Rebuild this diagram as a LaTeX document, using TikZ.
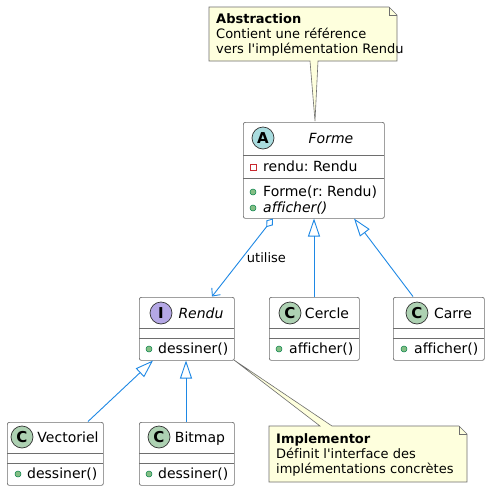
\documentclass[tikz,border=0pt]{standalone}
\usepackage{fontspec}
\setmainfont{DejaVu Sans}[Ligatures={TeXOff,CommonOff}]
\usetikzlibrary{arrows.meta}
\frenchspacing
\definecolor{lineblue}{HTML}{1E88E5}
\definecolor{boxborder}{HTML}{6E6E6E}
\definecolor{notefill}{HTML}{FEFFDD}
\definecolor{icC}{HTML}{ADD1B2}
\definecolor{icA}{HTML}{A9DCDF}
\definecolor{icI}{HTML}{B4A7E5}
\definecolor{pubfill}{HTML}{84BE84}
\definecolor{pubdraw}{HTML}{038048}
\definecolor{privdraw}{HTML}{C82930}
\tikzset{
  classbox/.style={draw=boxborder, fill=white, line width=0.7pt, rounded corners=2pt, anchor=north west, inner sep=0pt},
  sepline/.style={draw=boxborder, line width=0.7pt},
  ticon/.style={circle, draw=black!80, line width=0.7pt, minimum size=22pt, inner sep=0pt, font=\fontsize{15}{15}\selectfont\bfseries},
  cname/.style={font=\fontsize{14}{16}\selectfont, anchor=base, inner sep=0pt},
  member/.style={font=\fontsize{14}{16}\selectfont, anchor=base west, inner sep=0pt},
  notetext/.style={font=\fontsize{13}{15}\selectfont, anchor=base west, inner sep=0pt},
  pub/.style={circle, fill=pubfill, draw=pubdraw, line width=0.5pt, minimum size=6pt, inner sep=0pt},
  priv/.style={rectangle, draw=privdraw, line width=0.8pt, minimum size=6pt, inner sep=0pt},
  notebox/.style={draw=boxborder, fill=notefill, line width=0.6pt, line join=miter},
  conn/.style={draw=lineblue, line width=0.9pt},
  inh/.style={conn, -{Triangle[open, length=18pt, width=12pt, line width=0.9pt]}},
  agg/.style={conn, {Diamond[open, length=11pt, width=8pt, line width=0.9pt]}-{Straight Barb[length=6pt, width=11pt, line width=0.9pt]}},
}
\begin{document}
\begin{tikzpicture}[x=1pt,y=-1pt]
\useasboundingbox (0,0) rectangle (490,491);
\fill[white] (0,0) rectangle (490,491);

% ---------- Top note (Abstraction) ----------
\path[notebox] (209,7) -- (389,7) -- (397,15) -- (397,61) -- (318,61) -- (315,121) -- (310,61) -- (209,61) -- cycle;
\draw[boxborder, line width=0.6pt] (389,7) -- (389,15) -- (397,15);
\node[notetext, font=\fontsize{13}{15}\selectfont\bfseries] (nA1) at (216,23) {Abstraction};
\node[notetext] (nA2) at (216,38) {Contient une référence};
\node[notetext] (nA3) at (216,53) {vers l'implémentation Rendu};

% ---------- Bottom note (Implementor) ----------
\path[notebox] (269,426) -- (320,426) -- (234,360) -- (332,426) -- (459,426) -- (467,434) -- (467,482) -- (269,482) -- cycle;
\draw[boxborder, line width=0.6pt] (459,426) -- (459,434) -- (467,434);
\node[notetext, font=\fontsize{13}{15}\selectfont\bfseries] (nI1) at (276,443) {Implementor};
\node[notetext] (nI2) at (276,458) {Définit l'interface des};
\node[notetext] (nI3) at (276,473) {implémentations concrètes};

% ---------- Forme ----------
\node[classbox, minimum width=141pt, minimum height=96pt] (forme) at (243,122) {};
\draw[sepline] (243,155) -- (384,155);
\draw[sepline] (243,178) -- (384,178);
\node[ticon, fill=icA] (formeIc) at (263,138) {A};
\node[cname, font=\fontsize{14}{16}\selectfont\itshape] (formeN) at (331,143) {Forme};
\node[priv] (formeP1) at (253,167) {};
\node[member] (formeM1) at (263,171.5) {rendu: Rendu};
\node[pub] (formeP2) at (253,192) {};
\node[member] (formeM2) at (263,196.5) {Forme(r: Rendu)};
\node[pub] (formeP3) at (253,208) {};
\node[member, font=\fontsize{14}{16}\selectfont\itshape] (formeM3) at (263,212.5) {afficher()};

% ---------- Rendu ----------
\node[classbox, minimum width=95pt, minimum height=63pt] (rendu) at (139,297) {};
\draw[sepline] (139,328) -- (234,328);
\draw[sepline] (139,338) -- (234,338);
\node[ticon, fill=icI] (renduIc) at (161,313) {I};
\node[cname, font=\fontsize{14}{16}\selectfont\itshape] (renduN) at (201,318) {Rendu};
\node[pub] (renduP) at (149,349) {};
\node[member] (renduM) at (158,353.5) {dessiner()};

% ---------- Cercle ----------
\node[classbox, minimum width=90pt, minimum height=63pt] (cercle) at (269,297) {};
\draw[sepline] (269,328) -- (359,328);
\draw[sepline] (269,338) -- (359,338);
\node[ticon, fill=icC] (cercleIc) at (290,313) {C};
\node[cname] (cercleN) at (327,318) {Cercle};
\node[pub] (cercleP) at (279,349) {};
\node[member] (cercleM) at (289,353.5) {afficher()};

% ---------- Carre ----------
\node[classbox, minimum width=91pt, minimum height=63pt] (carre) at (393,297) {};
\draw[sepline] (393,328) -- (484,328);
\draw[sepline] (393,338) -- (484,338);
\node[ticon, fill=icC] (carreIc) at (417,313) {C};
\node[cname] (carreN) at (453,318) {Carre};
\node[pub] (carreP) at (404,349) {};
\node[member] (carreM) at (414,353.5) {afficher()};

% ---------- Vectoriel ----------
\node[classbox, minimum width=96pt, minimum height=63pt] (vect) at (7,422) {};
\draw[sepline] (7,453) -- (103,453);
\draw[sepline] (7,463) -- (103,463);
\node[ticon, fill=icC] (vectIc) at (22,437) {C};
\node[cname] (vectN) at (68,442) {Vectoriel};
\node[pub] (vectP) at (18,474) {};
\node[member] (vectM) at (27,478.5) {dessiner()};

% ---------- Bitmap ----------
\node[classbox, minimum width=95pt, minimum height=63pt] (bitmap) at (139,422) {};
\draw[sepline] (139,453) -- (234,453);
\draw[sepline] (139,463) -- (234,463);
\node[ticon, fill=icC] (bitmapIc) at (159,437) {C};
\node[cname] (bitmapN) at (200,442) {Bitmap};
\node[pub] (bitmapP) at (149,474) {};
\node[member] (bitmapM) at (158,478.5) {dessiner()};

% ---------- Connector end points ----------
\coordinate (fAgg) at (273,218.5);
\coordinate (rTop) at (212,296.5);
\coordinate (fCer) at (314,218.5);
\coordinate (cTop) at (314,296.5);
\coordinate (fCar) at (354,218.5);
\coordinate (kTop) at (413,296.5);
\coordinate (rInhV) at (153,360.5);
\coordinate (vTop) at (88,421.5);
\coordinate (rInhB) at (186,360.5);
\coordinate (bTop) at (186,421.5);

% ---------- Connectors ----------
\draw[agg] (fAgg) -- node[font=\fontsize{13}{15}\selectfont, right=4pt, inner sep=0pt, pos=0.5] (lbl) {utilise} (rTop);
\draw[inh] (cTop) -- (fCer);
\draw[inh] (kTop) -- (fCar);
\draw[inh] (vTop) -- (rInhV);
\draw[inh] (bTop) -- (rInhB);
\end{tikzpicture}
\end{document}
